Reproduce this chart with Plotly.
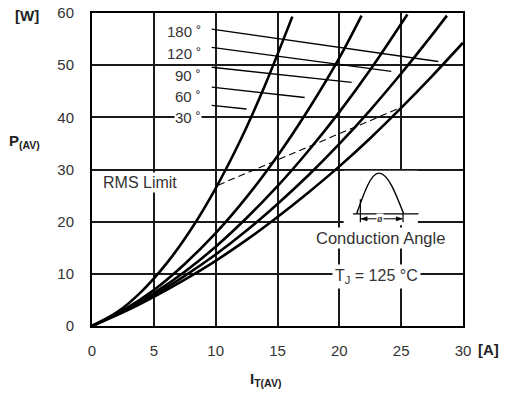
import plotly.graph_objects as go

# ---- data ----
I_30 = [0, 2, 4, 6, 8, 10, 12, 14, 16.2]
P_30 = [0, 2.6, 6.6, 11.9, 18.5, 26.4, 35.6, 46.2, 59.3]

I_60 = [0, 2.5, 5, 7.5, 10, 12.5, 15, 17.5, 20, 21.8]
P_60 = [0, 3.0, 6.9, 11.9, 17.8, 24.7, 32.6, 41.5, 51.4, 59.5]

I_90 = [0, 2.5, 5, 7.5, 10, 12.5, 15, 17.5, 20, 22.5, 25.5]
P_90 = [0, 2.8, 6.3, 10.4, 15.2, 20.7, 26.8, 33.6, 41.0, 49.1, 59.7]

I_120 = [0, 2.5, 5, 7.5, 10, 12.5, 15, 17.5, 20, 22.5, 25, 27.5, 28.7]
P_120 = [0, 2.7, 5.9, 9.6, 13.7, 18.3, 23.4, 28.9, 34.9, 41.4, 48.4, 55.8, 59.5]

I_180 = [0, 2.5, 5, 7.5, 10, 12.5, 15, 17.5, 20, 22.5, 25, 27.5, 30]
P_180 = [0, 2.6, 5.6, 8.9, 12.5, 16.5, 20.9, 25.6, 30.6, 36.0, 41.8, 47.9, 54.3]

RMS_I = [10.2, 25.1]
RMS_P = [27.0, 42.0]

angle_labels = ["180", "120", "90", "60", "30"]
label_y = [56.4, 52.3, 48.0, 44.0, 40.0]
leader_x0 = [9.68, 9.68, 9.68, 9.68, 9.68]
leader_y0 = [56.9, 53.4, 49.6, 45.8, 42.3]
leader_x1 = [28.0, 24.2, 21.0, 17.2, 12.5]
leader_y1 = [50.7, 48.8, 46.7, 43.8, 41.6]

x_ticks = [0, 5, 10, 15, 20, 25, 30]
y_ticks = [0, 10, 20, 30, 40, 50, 60]

TXT = "#333333"
FONT = "Liberation Sans, Arial, sans-serif"

fig = go.Figure()

for I, P in [(I_30, P_30), (I_60, P_60), (I_90, P_90), (I_120, P_120), (I_180, P_180)]:
    fig.add_trace(go.Scatter(x=I, y=P, mode="lines", line=dict(color="black", width=2.6, shape="spline", smoothing=0.8),
                             hoverinfo="skip", showlegend=False))

fig.add_trace(go.Scatter(x=RMS_I, y=RMS_P, mode="lines", line=dict(color="black", width=1.1, dash="7px,4px"),
                         hoverinfo="skip", showlegend=False))

for x0, y0, x1, y1 in zip(leader_x0, leader_y0, leader_x1, leader_y1):
    fig.add_trace(go.Scatter(x=[x0, x1], y=[y0, y1], mode="lines", line=dict(color="black", width=1.3),
                             hoverinfo="skip", showlegend=False))

annotations = []
for lab, yy in zip(angle_labels, label_y):
    annotations.append(dict(x=8.9, y=yy, xref="x", yref="y", xanchor="right", yanchor="middle",
                            text=lab + " \u02da", showarrow=False, bgcolor="white", borderpad=0,
                            font=dict(size=15, color=TXT, family=FONT)))

annotations.append(dict(x=3.9, y=27.6, xref="x", yref="y", xanchor="center", yanchor="middle", text="RMS Limit",
                        showarrow=False, bgcolor="white", borderpad=1, font=dict(size=16, color=TXT, family=FONT)))
annotations.append(dict(x=23.3, y=16.9, xref="x", yref="y", xanchor="center", yanchor="middle", text="Conduction Angle",
                        showarrow=False, bgcolor="white", borderpad=1, font=dict(size=16.5, color=TXT, family=FONT)))
annotations.append(dict(x=23.0, y=9.4, xref="x", yref="y", xanchor="center", yanchor="middle",
                        text="T<sub>J</sub> = 125 \u00b0C", showarrow=False,
                        bgcolor="white", borderpad=2, font=dict(size=16, color=TXT, family=FONT)))
annotations.append(dict(x=23.3, y=20.55, xref="x", yref="y", xanchor="center", yanchor="middle", text="\u00f8",
                        showarrow=False, bgcolor="white", borderpad=0, font=dict(size=9, color="black", family=FONT)))

# axis titles / units
annotations.append(dict(x=-0.175, y=0.993, xref="paper", yref="paper", xanchor="center", yanchor="middle",
                        text="<b>[W]</b>", showarrow=False, font=dict(size=15, color="#222", family=FONT)))
annotations.append(dict(x=-0.23, y=0.588, xref="paper", yref="paper", xanchor="left", yanchor="middle",
                        text="<b>P<sub>(AV)</sub></b>", showarrow=False, font=dict(size=15, color="#222", family=FONT)))
annotations.append(dict(x=1.07, y=-0.074, xref="paper", yref="paper", xanchor="center", yanchor="middle",
                        text="<b>[A]</b>", showarrow=False, font=dict(size=15, color="#222", family=FONT)))
annotations.append(dict(x=0.42, y=-0.172, xref="paper", yref="paper", xanchor="left", yanchor="middle",
                        text="<b>I<sub>T(AV)</sub></b>", showarrow=False, font=dict(size=15, color="#222", family=FONT)))

# sine wave icon (schematic)
xL, xm, xR, yb, h = 21.4, 23.2, 25.2, 21.5, 7.8
arch = (f"M {xL},{yb} C {xL+0.3261*(xm-xL)},{yb+0.5123*h} {xL+0.6381*(xm-xL)},{yb+h} {xm},{yb+h} "
        f"C {xm+0.3619*(xR-xm)},{yb+h} {xm+0.6739*(xR-xm)},{yb+0.5123*h} {xR},{yb}")
ya = 20.55
shapes = [
    dict(type="rect", xref="x", yref="y", x0=20.35, x1=26.35, y0=19.3, y1=29.75, fillcolor="white",
         line=dict(width=0), layer="between"),
    dict(type="path", xref="x", yref="y", path=arch, line=dict(color="black", width=1.4)),
    dict(type="line", xref="x", yref="y", x0=21.1, x1=26.4, y0=21.5, y1=21.5, line=dict(color="black", width=1.2)),
    dict(type="line", xref="x", yref="y", x0=21.7, x1=21.7, y0=19.9, y1=24.3, line=dict(color="black", width=1.2)),
    dict(type="line", xref="x", yref="y", x0=25.15, x1=25.15, y0=19.9, y1=21.5, line=dict(color="black", width=1.2)),
    dict(type="line", xref="x", yref="y", x0=21.75, x1=25.1, y0=ya, y1=ya, line=dict(color="black", width=1)),
    dict(type="path", xref="x", yref="y", path=f"M 21.75,{ya} L 22.25,{ya+0.4} L 22.25,{ya-0.4} Z",
         fillcolor="black", line=dict(color="black", width=0.5)),
    dict(type="path", xref="x", yref="y", path=f"M 25.1,{ya} L 24.6,{ya+0.4} L 24.6,{ya-0.4} Z",
         fillcolor="black", line=dict(color="black", width=0.5)),
]

axis_common = dict(showgrid=True, gridcolor="#1a1a1a", gridwidth=1.5, zeroline=False, showline=True,
                   linecolor="black", linewidth=2, mirror=True, ticks="", fixedrange=True, automargin=False,
                   tickfont=dict(size=15, color=TXT, family=FONT))

fig.update_layout(
    width=506, height=394,
    margin=dict(l=92, r=43, t=13, b=68),
    paper_bgcolor="white", plot_bgcolor="white",
    xaxis=dict(range=[0, 30], tickvals=x_ticks, ticklabelstandoff=10, **axis_common),
    yaxis=dict(range=[0, 60], tickvals=y_ticks, ticklabelstandoff=13, **axis_common),
    annotations=annotations,
    shapes=shapes,
    showlegend=False,
)

fig.write_html("out.html", config={"displayModeBar": False})
